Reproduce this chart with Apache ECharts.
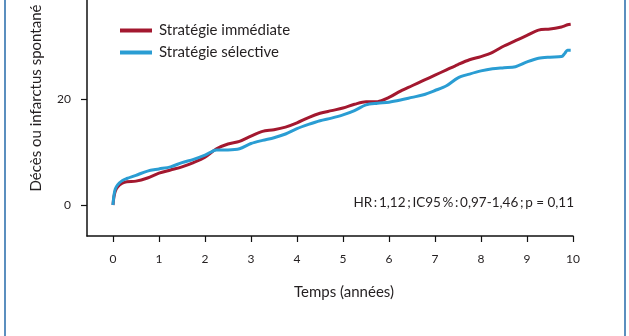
<!DOCTYPE html>
<html>
<head>
<meta charset="utf-8">
<script src="https://cdn.jsdelivr.net/npm/echarts@6/dist/echarts.min.js"></script>
<style>html,body{margin:0;padding:0;background:#fff}#c{width:629px;height:336px}</style>
</head>
<body>
<div id="c"></div>
<script>
var years = [0,0.02,0.05,0.1,0.2,0.3,0.5,0.75,1,1.25,1.5,1.75,2,2.25,2.5,2.75,3,3.25,3.5,3.75,4,4.25,4.5,4.75,5,5.25,5.5,5.75,6,6.25,6.5,6.75,7,7.25,7.5,7.75,8,8.25,8.5,8.75,9,9.25,9.5,9.75,9.82,9.88,9.95];
var immediate = [0,1.5,2.6,3.4,4.1,4.4,4.5,5.1,6.0,6.6,7.2,8.0,9.0,10.6,11.5,12.0,13.0,13.9,14.2,14.7,15.5,16.5,17.3,17.8,18.3,19.0,19.5,19.5,20.3,21.5,22.5,23.5,24.5,25.5,26.5,27.4,28.0,28.8,30.0,31.0,32.0,33.0,33.2,33.6,33.8,34.0,34.1];
var selective = [0,1.8,3.0,3.8,4.6,5.0,5.6,6.4,6.8,7.2,8.0,8.6,9.4,10.4,10.4,10.6,11.6,12.2,12.7,13.4,14.4,15.2,15.9,16.4,17.0,17.8,18.9,19.2,19.4,19.8,20.3,20.8,21.6,22.5,24.0,24.7,25.3,25.7,25.9,26.1,27.0,27.7,27.9,28.0,28.6,29.2,29.2];
var xTicks = [0,1,2,3,4,5,6,7,8,9,10];
var yTicks = [0,20];
var seriesNames = ['Stratégie immédiate','Stratégie sélective'];
var axisTitles = {x:'Temps (années)', y:'Décès ou infarctus spontané'};
var note = 'HR\u2009:\u20091,12\u2009;\u2009IC95\u2009%\u2009:\u20090,97-1,46\u2009;\u2009p = 0,11';

function pairs(v){ return years.map(function(t,i){ return [t, v[i]]; }); }
var FONT = 'Lato';
var TXT = '#231f20';
var chart = echarts.init(document.getElementById('c'), null, {renderer:'canvas'});
chart.setOption({
  animation:false,
  textStyle:{fontFamily:FONT},
  grid:{left:87,right:56,top:0,bottom:100,containLabel:false},
  legend:{
    data:seriesNames, orient:'vertical', left:115, top:18, icon:'rect',
    itemWidth:32, itemHeight:4, itemGap:7,
    textStyle:{fontFamily:FONT,fontSize:15,color:TXT,padding:[0,0,0,2]}
  },
  xAxis:{
    type:'value', min:-0.565, max:10,
    axisLine:{onZero:false,lineStyle:{color:'#111',width:1.5}},
    axisTick:{show:true,length:6,customValues:xTicks,lineStyle:{color:'#111',width:1.2}},
    axisLabel:{customValues:xTicks,margin:17,fontSize:12,color:TXT,fontFamily:FONT},
    splitLine:{show:false}
  },
  yAxis:{
    type:'value', min:-5.85, max:38.68,
    axisLine:{show:true,onZero:false,lineStyle:{color:'#111',width:1.5}},
    axisTick:{show:true,length:6,customValues:yTicks,lineStyle:{color:'#111',width:1.2}},
    axisLabel:{customValues:yTicks,margin:16,fontSize:12,color:TXT,fontFamily:FONT},
    splitLine:{show:false}
  },
  series:[
    {name:seriesNames[0],type:'line',data:pairs(immediate),showSymbol:false,smooth:0.3,
     lineStyle:{color:'#a3182f',width:3},itemStyle:{color:'#a3182f'},z:2},
    {name:seriesNames[1],type:'line',data:pairs(selective),showSymbol:false,smooth:0.3,
     lineStyle:{color:'#2a9dd3',width:3},itemStyle:{color:'#2a9dd3'},z:3}
  ],
  graphic:[
    {type:'line',shape:{x1:5,y1:0,x2:5,y2:336},style:{stroke:'#5b8fbf',lineWidth:2}},
    {type:'line',shape:{x1:625,y1:0,x2:625,y2:336},style:{stroke:'#5b8fbf',lineWidth:2}},
    {type:'text',x:344,y:292,style:{text:axisTitles.x,font:'15px Lato',fill:TXT,align:'center',verticalAlign:'middle'}},
    {type:'text',x:36,y:98,rotation:Math.PI/2,style:{text:axisTitles.y,font:'15px Lato',fill:TXT,align:'center',verticalAlign:'middle'}},
    {type:'text',x:574,y:203,style:{text:note,font:'13.5px Lato',fill:TXT,align:'right',verticalAlign:'middle'}}
  ]
});
</script>
</body>
</html>
